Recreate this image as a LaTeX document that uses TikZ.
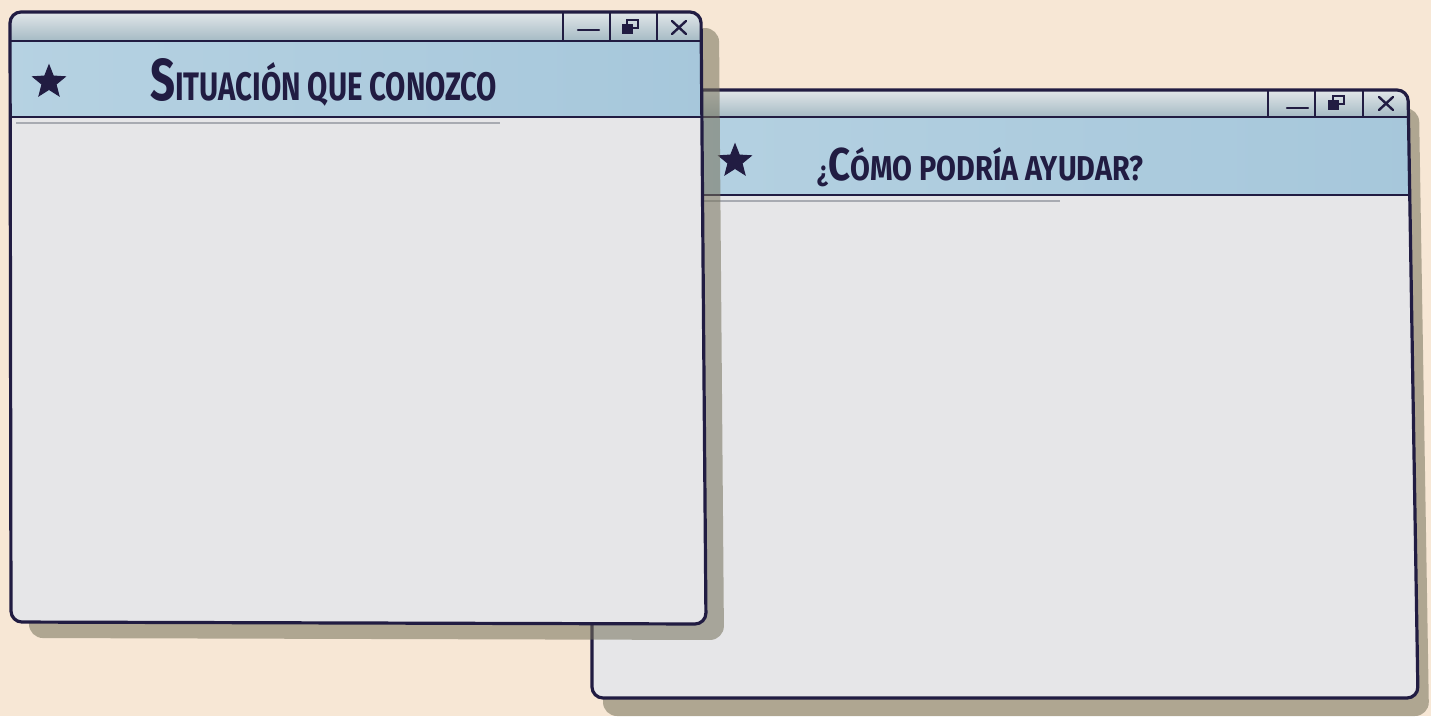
\documentclass[tikz,border=0pt]{standalone}
\usepackage{fontspec}
\setmainfont{Fira Sans}
\usetikzlibrary{shapes.geometric}
\definecolor{bg}{HTML}{F7E7D5}
\definecolor{ink}{HTML}{211C42}
\definecolor{bodygrey}{HTML}{E6E6E8}
\definecolor{titleblue}{HTML}{A6C7DB}
\definecolor{titlelight}{HTML}{B6D2E2}
\definecolor{topA}{HTML}{E6EAEC}
\definecolor{topB}{HTML}{A5BAC4}
\definecolor{shade}{HTML}{75715A}
\definecolor{faint}{HTML}{8E939C}
\tikzset{
  framepath/.style={draw=ink, line width=3.2pt, rounded corners=11pt},
  sepline/.style={draw=ink, line width=2.8pt},
  starmark/.style={star, star points=5, star point ratio=2.3, fill=ink, draw=ink, line width=1pt, minimum size=34pt, inner sep=0pt},
  titletext/.style={text=ink, inner sep=0pt, anchor=base west},
  iconline/.style={draw=ink, line width=2.4pt, line cap=round},
  shadowfill/.style={fill=shade, opacity=0.55, rounded corners=14pt},
  windowfill/.style={fill=bodygrey, rounded corners=11pt},
  innerline/.style={draw=faint, line width=1.2pt, opacity=0.7},
}
\begin{document}
\begin{tikzpicture}[x=1pt,y=-1pt]
\fill[bg] (0,0) rectangle (1431,716);
\useasboundingbox (0,0) rectangle (1431,716);

% ---------- right window ----------
\coordinate (rtl) at (592,90);
\coordinate (rtr) at (1408,90);
\coordinate (rbr) at (1418,698);
\coordinate (rbl) at (592,698);
\fill[shadowfill] ([xshift=11pt,yshift=-18pt]rtl) -- ([xshift=11pt,yshift=-18pt]rtr) -- ([xshift=11pt,yshift=-18pt]rbr) -- ([xshift=11pt,yshift=-18pt]rbl) -- cycle;
\fill[windowfill] (rtl) -- (rtr) -- (rbr) -- (rbl) -- cycle;
\begin{scope}
  \clip[rounded corners=11pt] (rtl) -- (rtr) -- (rbr) -- (rbl) -- cycle;
  \shade[top color=topA, bottom color=topB] (580,88) rectangle (1430,117);
  \shade[left color=titlelight, right color=titleblue] (580,117) rectangle (1430,195);
\end{scope}
\draw[innerline] (598,201) -- (1060,201);
\draw[framepath] (rtl) -- (rtr) -- (rbr) -- (rbl) -- cycle;
\draw[sepline] (592,117) -- (1408.4,117);
\draw[sepline] (592,195) -- (1409.7,195);
\draw[sepline] (1268,90) -- (1268,117);
\draw[sepline] (1315,90) -- (1315,117);
\draw[sepline] (1363,90) -- (1363,117);
\draw[iconline] (1287,108) -- (1308,108);
\draw[iconline] (1333,96) rectangle (1344,104);
\draw[iconline, fill=ink] (1329,101) rectangle (1338,109);
\draw[iconline] (1379,97) -- (1393,110);
\draw[iconline] (1393,97) -- (1379,110);
\node[starmark] (rstar) at (735,161) {};
\node[titletext] (rtitle) at (817,180) {\resizebox{326pt}{33pt}{\bfseries\fontsize{30}{30}\selectfont ¿\fontsize{48}{48}\selectfont C\fontsize{36}{36}\selectfont ÓMO PODRÍA AYUDAR?}};

% ---------- left window ----------
\coordinate (ltl) at (10,12);
\coordinate (ltr) at (701,12);
\coordinate (lbr) at (706,624);
\coordinate (lbl) at (11,622);
\fill[shadowfill] ([xshift=18pt,yshift=-16pt]ltl) -- ([xshift=18pt,yshift=-16pt]ltr) -- ([xshift=18pt,yshift=-16pt]lbr) -- ([xshift=18pt,yshift=-16pt]lbl) -- cycle;
\fill[windowfill] (ltl) -- (ltr) -- (lbr) -- (lbl) -- cycle;
\begin{scope}
  \clip[rounded corners=11pt] (ltl) -- (ltr) -- (lbr) -- (lbl) -- cycle;
  \shade[top color=topA, bottom color=topB] (0,10) rectangle (720,41);
  \shade[left color=titlelight, right color=titleblue] (0,41) rectangle (720,117);
\end{scope}
\draw[innerline] (16,123) -- (500,123);
\draw[framepath] (ltl) -- (ltr) -- (lbr) -- (lbl) -- cycle;
\draw[sepline] (10,41) -- (701.2,41);
\draw[sepline] (10,117) -- (702,117);
\draw[sepline] (563,12) -- (563,41);
\draw[sepline] (610,12) -- (610,41);
\draw[sepline] (657,12) -- (657,41);
\draw[iconline] (578,30) -- (599,30);
\draw[iconline] (627,20) rectangle (638,28);
\draw[iconline, fill=ink] (623,25) rectangle (632,33);
\draw[iconline] (672,21) -- (686,34);
\draw[iconline] (686,21) -- (672,34);
\node[starmark] (lstar) at (49,82) {};
\node[titletext] (ltitle) at (150,100) {\resizebox{347pt}{42pt}{\bfseries\fontsize{61}{61}\selectfont S\fontsize{41}{41}\selectfont ITUACIÓN QUE CONOZCO}};
\end{tikzpicture}
\end{document}
